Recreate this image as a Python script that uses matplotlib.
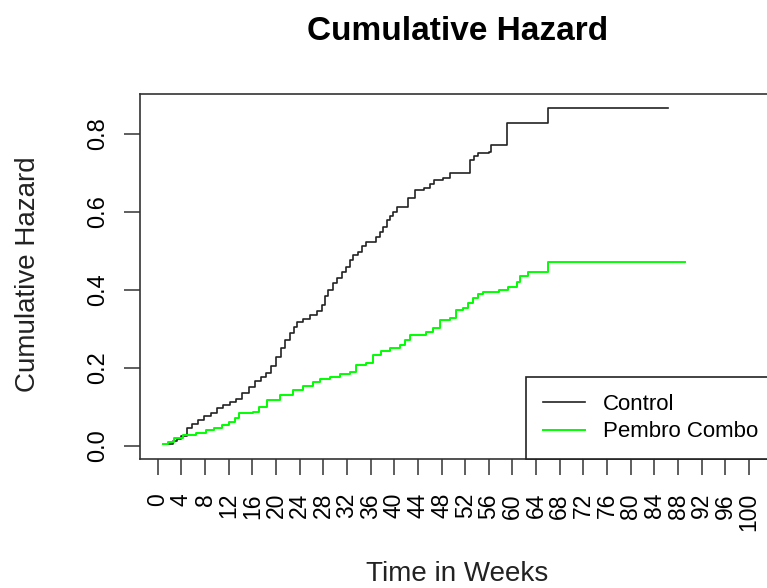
import matplotlib
matplotlib.use("Agg")
import matplotlib.pyplot as plt
import numpy as np

plt.rcParams['font.family'] = ['Liberation Sans', 'DejaVu Sans']

# Data (step functions, 'post')
control_t = [1.7, 2.5, 3.2, 4.0, 4.9, 5.8, 6.8, 7.8, 9.0, 10.0, 11.0, 12.2, 13.3, 14.3,
             15.5, 16.5, 17.4, 18.3, 19.2, 20.0, 20.8, 21.6, 22.3, 23.0, 23.6, 24.6,
             25.8, 27.0, 27.8, 28.3, 28.8, 29.6, 30.4, 31.2, 31.9, 32.5, 33.0, 33.9,
             34.6, 35.3, 37.0, 37.6, 38.1, 38.8, 39.3, 39.8, 40.4, 42.3, 43.5, 45.1,
             46.0, 46.8, 48.2, 49.4, 52.8, 53.5, 54.2, 56.1, 56.4, 59.0, 66.0, 86.3]
control_h = [0.005, 0.012, 0.018, 0.025, 0.045, 0.055, 0.065, 0.075, 0.085, 0.097, 0.105,
             0.112, 0.120, 0.135, 0.150, 0.165, 0.175, 0.186, 0.205, 0.227, 0.250, 0.270,
             0.289, 0.305, 0.317, 0.325, 0.335, 0.345, 0.360, 0.385, 0.398, 0.416, 0.430,
             0.445, 0.459, 0.475, 0.489, 0.497, 0.512, 0.523, 0.536, 0.548, 0.562, 0.578,
             0.590, 0.600, 0.613, 0.634, 0.656, 0.660, 0.672, 0.681, 0.686, 0.698, 0.733,
             0.742, 0.750, 0.754, 0.771, 0.827, 0.865, 0.865]

combo_t = [0.9, 1.8, 2.8, 4.2, 6.5, 8.2, 9.5, 10.8, 12.1, 13.0, 13.8, 16.1, 17.2, 18.4,
           20.6, 22.9, 24.5, 26.2, 27.5, 29.1, 30.8, 32.5, 33.6, 35.3, 36.4, 37.8, 39.2,
           40.9, 41.8, 42.6, 45.4, 46.5, 47.7, 49.4, 50.5, 51.6, 52.5, 53.3, 54.2, 55.0,
           57.8, 59.2, 60.7, 61.2, 62.6, 66.0, 89.2]
combo_h = [0.004, 0.010, 0.019, 0.027, 0.032, 0.040, 0.045, 0.052, 0.062, 0.072, 0.083,
           0.087, 0.100, 0.117, 0.130, 0.143, 0.152, 0.164, 0.170, 0.177, 0.184, 0.190,
           0.207, 0.211, 0.233, 0.242, 0.250, 0.258, 0.272, 0.284, 0.292, 0.301, 0.322,
           0.327, 0.348, 0.352, 0.365, 0.378, 0.388, 0.395, 0.399, 0.408, 0.421, 0.435,
           0.446, 0.472, 0.472]

x_ticks = list(range(0, 101, 4))
y_ticks = [0.0, 0.2, 0.4, 0.6, 0.8]
series_names = ["Control", "Pembro Combo"]

W, H = 767, 588
fig = plt.figure(figsize=(W / 100, H / 100), dpi=100)
ax_left, ax_right, ax_top, ax_bottom = 140, 775, 94, 459
ax = fig.add_axes([ax_left / W, 1 - ax_bottom / H, (ax_right - ax_left) / W,
                   (ax_bottom - ax_top) / H])

ax.step(control_t, control_h, where='post', color='#222222', lw=1.2, label=series_names[0])
ax.step(combo_t, combo_h, where='post', color='#00ff00', lw=1.4, label=series_names[1])

ax.set_xlim(-3.0, 104.4)
ax.set_ylim(-0.0341, 0.9018)

ax.set_xticks(x_ticks)
ax.set_xticklabels([str(v) for v in x_ticks], rotation=90, fontsize=16.5)
ax.set_yticks(y_ticks)
ax.set_yticklabels([f"{v:.1f}" for v in y_ticks], rotation=90, va='center', fontsize=17)
ax.tick_params(axis='x', length=11.5, width=1.1, pad=13, color='#333333')
ax.tick_params(axis='y', length=11.5, width=1.1, pad=11, color='#333333')
for s in ax.spines.values():
    s.set_linewidth(1.2)
    s.set_color('#333333')

ax.set_xlabel("Time in Weeks", fontsize=20, color='#222222')
ax.xaxis.label.set_va('center')
ax.xaxis.set_label_coords(0.5, (ax_bottom - 574) / (ax_bottom - ax_top))
ax.set_ylabel("Cumulative Hazard", fontsize=20, color='#222222')
ax.yaxis.label.set_va('center')
ax.yaxis.set_label_coords((28 - ax_left) / (ax_right - ax_left), 0.505)

fig.text((ax_left + ax_right) / 2 / W, 1 - 31 / H, "Cumulative Hazard",
         ha='center', va='center', fontsize=24, fontweight='bold')

leg = ax.legend(loc='lower right', bbox_to_anchor=(1, 0), borderaxespad=0,
                fontsize=16, fancybox=False, framealpha=1, edgecolor='#222222',
                handlelength=1.9, handletextpad=0.8, borderpad=0.75, labelspacing=0.3)
leg.get_frame().set_linewidth(1.2)

fig.savefig("out.png", dpi=100)
